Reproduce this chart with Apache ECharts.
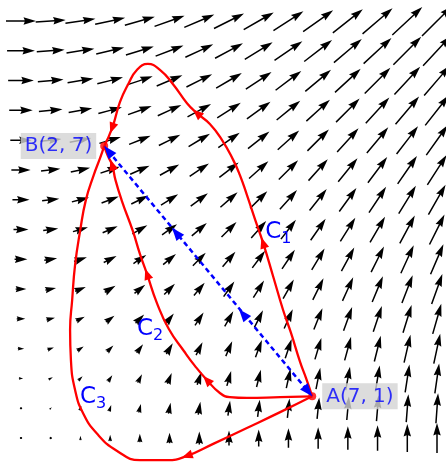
<!DOCTYPE html>
<html>
<head>
<meta charset="utf-8">
<script src="https://cdn.jsdelivr.net/npm/echarts@6/dist/echarts.min.js"></script>
<style>
html, body { margin: 0; padding: 0; background: #fff; }
#main { width: 446px; height: 462px; }
</style>
</head>
<body>
<div id="main"></div>
<script>
// grid of the vector field (same ticks both ways)
var gridX = [0, 0.714, 1.429, 2.143, 2.857, 3.571, 4.286, 5, 5.714, 6.429, 7.143, 7.857, 8.571, 9.286, 10];
var gridY = [0, 0.714, 1.429, 2.143, 2.857, 3.571, 4.286, 5, 5.714, 6.429, 7.143, 7.857, 8.571, 9.286, 10];
// horizontal part of the arrows, one value per row (bottom to top)
var rowU = [0, 0.714, 1.429, 2.143, 2.857, 3.571, 4.286, 5, 5.714, 6.429, 7.143, 7.857, 8.571, 9.286, 10];
// vertical part of the arrows, one value per column (left to right)
var colV = [0, 0.714, 1.429, 2.143, 2.857, 3.571, 4.286, 5, 5.714, 6.429, 7.143, 7.857, 8.571, 9.286, 10];

var pointA = [7, 1];
var pointB = [2, 7];

var c1 = [[7, 1], [6.85, 1.44], [6.71, 1.82], [6.49, 2.52], [6.30, 3.07], [6.06, 3.88], [5.82, 4.68],
  [5.63, 5.23], [5.43, 5.83], [5.26, 6.31], [5.10, 6.67], [4.83, 7.15], [4.54, 7.53], [4.23, 7.79],
  [3.99, 8.03], [3.65, 8.49], [3.34, 8.83], [3.05, 8.97], [2.79, 8.83], [2.57, 8.47], [2.38, 8.06],
  [2.19, 7.43], [2, 7]];
var c2 = [[7, 1], [6.23, 0.98], [5.43, 0.96], [5.02, 0.98], [4.78, 1.08], [4.47, 1.39], [4.18, 1.73],
  [3.92, 2.08], [3.55, 2.62], [3.27, 3.23], [3.03, 3.93], [2.86, 4.41], [2.69, 4.96], [2.42, 5.70],
  [2.27, 6.19], [2.19, 6.55], [2.09, 6.76], [2, 7]];
var c3 = [[7, 1], [6.23, 0.62], [5.43, 0.24], [4.62, -0.14], [3.99, -0.43], [3.51, -0.53], [2.86, -0.53],
  [2.31, -0.31], [1.83, 0.10], [1.49, 0.60], [1.30, 1.15], [1.20, 1.87], [1.18, 2.59], [1.23, 3.31],
  [1.30, 4.15], [1.42, 4.96], [1.56, 5.71], [1.75, 6.31], [1.90, 6.71], [2, 7]];
// where the arrowheads sit on each curve (index into the curve)
var c1Heads = [6, 13, 21];
var c2Heads = [5, 10, 15];
var c3Heads = [4];
// arrowheads along the straight dashed path
var blueMidHeads = [[5.34, 2.97], [3.73, 4.92]];

var curveNames = ['C', 'C', 'C'];
var curveSubs = ['1', '2', '3'];
var curveLabelPos = [[5.87, 4.95], [2.79, 2.61], [1.42, 0.98]];

var RED = '#ff0000', BLUE = '#0000ff';
var QW = 2.5;   // quiver arrow unit width, px
var QSHAFT = 0.3; // half shaft, in units of QW
var QS = 3.0;   // px per unit of field

// quiver data
var quiverData = [];
for (var j = 0; j < gridY.length; j++) {
  for (var i = 0; i < gridX.length; i++) {
    quiverData.push([gridX[i], gridY[j], rowU[j], colV[i]]);
  }
}

// arrow outline like matplotlib quiver (pivot middle), in units of QW
function quiverShape(l) {
  var X, Y, k, h = QSHAFT;
  if (l < 1) {
    X = []; Y = [];
    for (k = 0; k < 6; k++) {
      X.push(Math.cos(k * Math.PI / 3) * 0.5);
      Y.push(Math.sin(k * Math.PI / 3) * 0.5);
    }
    return [X, Y];
  }
  if (l < 5) {
    var s = l / 5;
    X = [0, 0.5, 0, 5, 0, 0.5, 0].map(function (v) { return v * s; });
    Y = [h, h, 1.5, 0, -1.5, -h, -h].map(function (v) { return v * s; });
  } else {
    X = [0, l - 4.5, l - 5, l, l - 5, l - 4.5, 0];
    Y = [h, h, 1.5, 0, -1.5, -h, -h];
  }
  var half = X[3] / 2;
  X = X.map(function (v) { return v - half; });
  return [X, Y];
}

function renderQuiver(params, api) {
  var p = api.coord([api.value(0), api.value(1)]);
  var dx = api.value(2) * QS, dy = -api.value(3) * QS;
  var L = Math.sqrt(dx * dx + dy * dy);
  var ang = Math.atan2(dy, dx);
  var sh = quiverShape(L / QW);
  var c = Math.cos(ang), s = Math.sin(ang);
  var pts = [];
  for (var k = 0; k < sh[0].length; k++) {
    var x = sh[0][k] * QW, y = sh[1][k] * QW;
    pts.push([p[0] + x * c - y * s, p[1] + x * s + y * c]);
  }
  return { type: 'polygon', shape: { points: pts }, style: { fill: '#000' } };
}

function headRenderer(color, len, half) {
  return function (params, api) {
    var p = api.coord([api.value(0), api.value(1)]);
    var a = api.coord([api.value(2), api.value(3)]);
    var b = api.coord([api.value(4), api.value(5)]);
    var dx = b[0] - a[0], dy = b[1] - a[1];
    var d = Math.sqrt(dx * dx + dy * dy);
    dx /= d; dy /= d;
    var shift = api.value(6) ? 0 : len / 2;
    var tip = [p[0] + dx * shift, p[1] + dy * shift];
    var base = [tip[0] - dx * len, tip[1] - dy * len];
    return {
      type: 'polygon',
      shape: { points: [tip, [base[0] - dy * half, base[1] + dx * half], [base[0] + dy * half, base[1] - dx * half]] },
      style: { fill: color }
    };
  };
}

var redHeadData = [];
[[c1, c1Heads], [c2, c2Heads], [c3, c3Heads]].forEach(function (pair) {
  var c = pair[0];
  pair[1].forEach(function (i) {
    redHeadData.push([c[i][0], c[i][1], c[i - 1][0], c[i - 1][1], c[i + 1][0], c[i + 1][1], 0]);
  });
});

var blueHeadData = [];
blueMidHeads.forEach(function (h) {
  blueHeadData.push([h[0], h[1], pointA[0], pointA[1], pointB[0], pointB[1], 0]);
});
blueHeadData.push([pointB[0], pointB[1], pointA[0], pointA[1], pointB[0], pointB[1], 1]);
blueHeadData.push([pointA[0], pointA[1], pointB[0], pointB[1], pointA[0], pointA[1], 1]);

var labelData = curveLabelPos.map(function (p, i) { return [p[0], p[1], i]; });

var chart = echarts.init(document.getElementById('main'));
var redLine = function (data) {
  return {
    type: 'line', data: data, showSymbol: false, smooth: 0.5, clip: false, silent: true, z: 3,
    lineStyle: { color: RED, width: 2.3 }
  };
};
chart.setOption({
  animation: false,
  backgroundColor: '#fff',
  grid: { left: 21, top: 21, width: 416, height: 417 },
  xAxis: { type: 'value', min: 0, max: 10, show: false },
  yAxis: { type: 'value', min: 0, max: 10, show: false },
  series: [
    { type: 'custom', data: quiverData, renderItem: renderQuiver, silent: true, z: 1 },
    redLine(c1),
    redLine(c2),
    redLine(c3),
    {
      type: 'line', data: [pointA, pointB], showSymbol: false, clip: false, silent: true, z: 4,
      lineStyle: { color: BLUE, width: 2.5, type: [5, 3.5] }
    },
    { type: 'custom', data: redHeadData, renderItem: headRenderer(RED, 11, 4.5), silent: true, z: 5 },
    {
      type: 'scatter', symbolSize: 8, silent: true, z: 6,
      itemStyle: { color: RED },
      label: {
        show: true, color: BLUE, fontSize: 20, fontFamily: 'DejaVu Sans',
        backgroundColor: '#d3d3d3', padding: [2, 4, 1, 4], lineHeight: 23
      },
      data: [
        { value: pointA, label: { position: 'right', distance: 6, formatter: 'A(7, 1)' } },
        { value: pointB, label: { position: 'left', distance: 4, formatter: 'B(2, 7)' } }
      ]
    },
    { type: 'custom', data: blueHeadData, renderItem: headRenderer(BLUE, 13, 5), silent: true, z: 7 },
    {
      type: 'custom', data: labelData, silent: true, z: 8,
      renderItem: function (params, api) {
        var p = api.coord([api.value(0), api.value(1)]);
        var i = api.value(2);
        return {
          type: 'group', children: [
            { type: 'text', x: p[0], y: p[1], style: { text: curveNames[i], fill: BLUE, font: '23px "DejaVu Sans"', align: 'left', verticalAlign: 'middle' } },
            { type: 'text', x: p[0] + 16, y: p[1] + 7, style: { text: curveSubs[i], fill: BLUE, font: '16px "DejaVu Sans"', align: 'left', verticalAlign: 'middle' } }
          ]
        };
      }
    }
  ]
});
</script>
</body>
</html>
